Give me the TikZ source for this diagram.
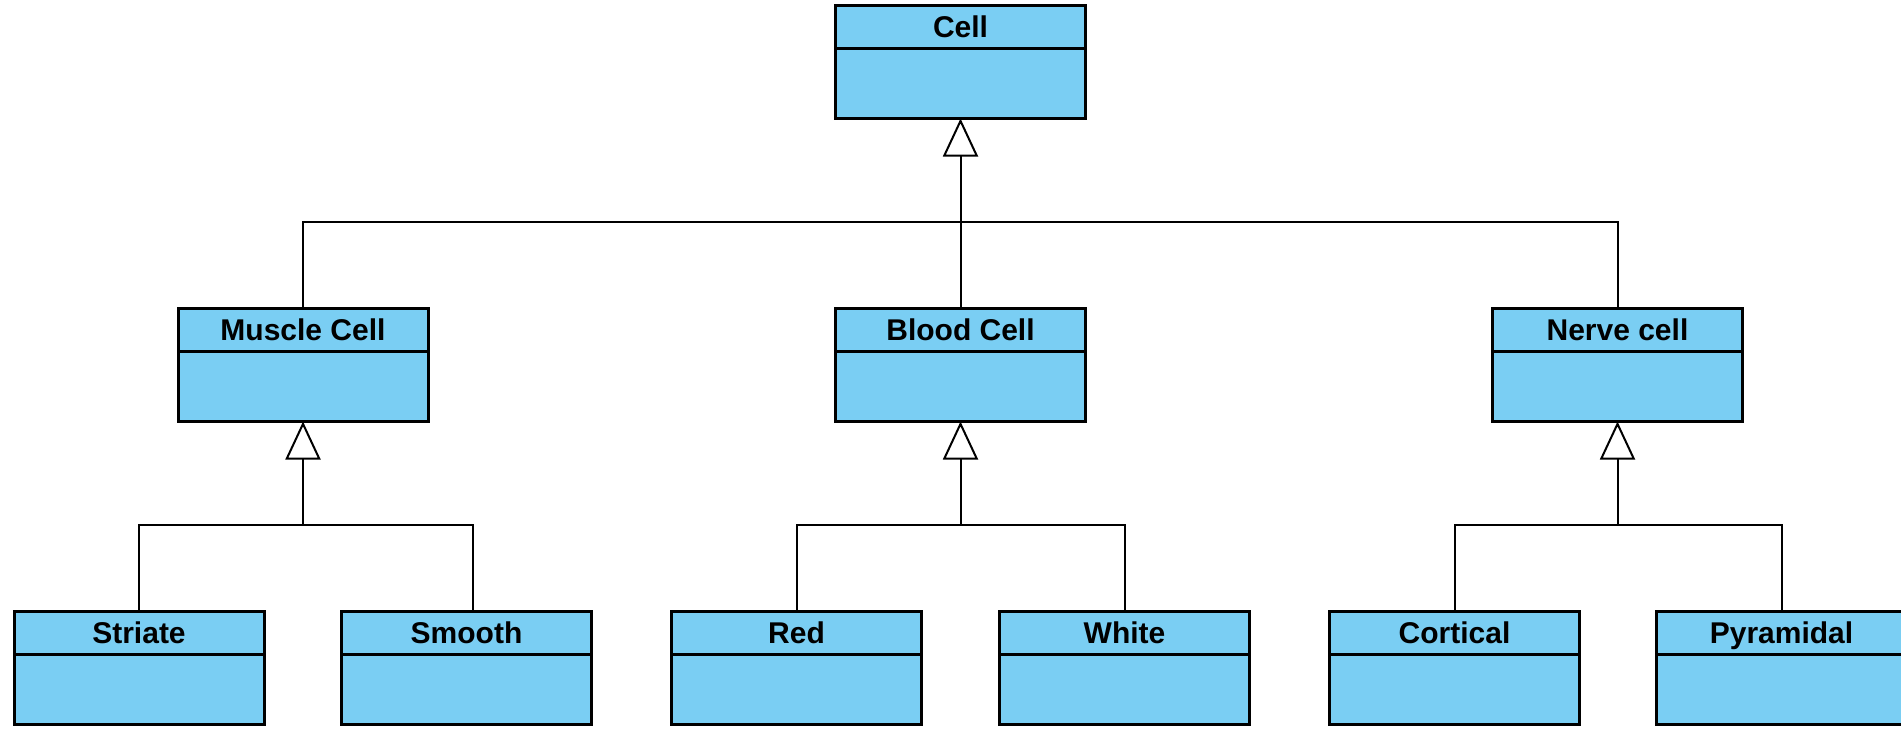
\documentclass[tikz,border=0pt]{standalone}
\usepackage{fontspec}
\setmainfont{Liberation Sans}
\usetikzlibrary{arrows.meta}
\definecolor{classfill}{RGB}{122,206,243}

% one UML class: outer box, name compartment and its divider
\newcommand\umlclass[4]{%
  \node[classbox] (#1) at (#2,#3) {};
  \node[classhead, anchor=north] (#1-head) at (#1.north) {#4};
  \draw[divider] (#1-head.south west) -- (#1-head.south east);
}

\begin{document}
\begin{tikzpicture}[x=0.5pt,y=-0.5pt,
  classbox/.style={draw=black, line width=1.5pt, fill=classfill, rectangle,
    inner sep=0pt, outer sep=0pt, minimum width=125pt, minimum height=56.5pt},
  classhead/.style={rectangle, inner sep=0pt, outer sep=0pt,
    minimum width=125pt, minimum height=21.5pt,
    text height=10.75pt, text depth=0pt,
    font=\fontsize{15pt}{18pt}\selectfont\bfseries},
  divider/.style={line width=1.2pt},
  link/.style={line width=1pt},
  gen/.style={line width=1pt,
    -{Triangle[length=19pt, width=17.5pt, fill=white, line width=1pt]}},
]
\useasboundingbox (0,0) rectangle (1901,730);
\clip (0,0) rectangle (1901,730);

% classes
\umlclass{cell}{960.5}{62}{Cell}
\umlclass{muscle}{303}{365}{Muscle Cell}
\umlclass{blood}{960.5}{365}{Blood Cell}
\umlclass{nerve}{1617.5}{365}{Nerve cell}
\umlclass{striate}{139}{668}{Striate}
\umlclass{smooth}{466.5}{668}{Smooth}
\umlclass{red}{796.5}{668}{Red}
\umlclass{white}{1124.5}{668}{White}
\umlclass{cortical}{1454.5}{668}{Cortical}
\umlclass{pyramidal}{1781.5}{668}{Pyramidal}

% junction points of the generalization trees
\coordinate (tbus) at (960.5,222);
\coordinate (mbus) at (303,525);
\coordinate (bbus) at (960.5,525);
\coordinate (nbus) at (1617.5,525);
\coordinate (smooth-in) at ([xshift=3.25pt]smooth.north);

% Cell hierarchy
\draw[gen] (tbus) -- (cell.south);
\draw[link] (blood.north) -- (tbus);
\draw[link] (muscle.north) |- (tbus) -| (nerve.north);

% Muscle Cell hierarchy
\draw[gen] (mbus) -- (muscle.south);
\draw[link] (striate.north) |- (mbus) -| (smooth-in);

% Blood Cell hierarchy
\draw[gen] (bbus) -- (blood.south);
\draw[link] (red.north) |- (bbus) -| (white.north);

% Nerve cell hierarchy
\draw[gen] (nbus) -- (nerve.south);
\draw[link] (cortical.north) |- (nbus) -| (pyramidal.north);
\end{tikzpicture}
\end{document}
